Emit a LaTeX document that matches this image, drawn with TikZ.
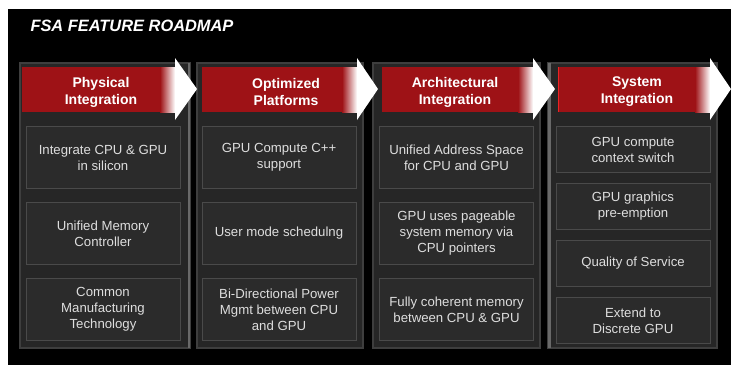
\documentclass[tikz,border=0pt]{standalone}
\usepackage{fontspec}
\setmainfont{Liberation Sans}
\usetikzlibrary{positioning}

\definecolor{fsared}{RGB}{158,18,22}
\definecolor{fsaedge}{RGB}{235,35,35}
\definecolor{panelgray}{RGB}{38,38,38}
\definecolor{paneledge}{RGB}{62,62,62}
\definecolor{bevelgray}{RGB}{105,105,105}
\definecolor{boxgray}{RGB}{43,43,43}
\definecolor{boxedge}{RGB}{74,74,74}
\definecolor{boxtext}{RGB}{222,222,222}

\begin{document}
\begin{tikzpicture}[x=1pt, y=-1pt, node distance=13pt]
		 \tikzstyle{panel} = [draw=paneledge, line width=1.5pt, fill=panelgray]
		 \tikzstyle{item} = [draw=boxedge, line width=1pt, fill=boxgray, text=boxtext, align=center,
		                     font=\fontsize{13.2}{16}\selectfont, minimum width=154pt, minimum height=62pt, inner sep=0pt]
		 \tikzstyle{small item} = [item, minimum height=46pt]
		 \tikzstyle{head} = [text=white, align=center, font=\fontsize{14}{17}\selectfont\bfseries]
		 \tikzstyle{fade} = [left color=fsared, right color=white]

		 \useasboundingbox (0,0) rectangle (731,365);
		 \fill [black] (8,9) rectangle (731,365);

		 \node [text=white, anchor=west, font=\fontsize{16.4}{16.4}\selectfont\bfseries\itshape] (title) at (27,26) {FSA FEATURE ROADMAP};

		 % panels
		 \draw [panel] (20,63) rectangle (190,348);
		 \draw [panel] (197,63) rectangle (363,348);
		 \draw [panel] (373,63) rectangle (540,348);
		 \draw [panel] (548,63) rectangle (717,348);
		 \draw [bevelgray, line width=2.5pt] (189,63) -- (189,348);
		 \draw [bevelgray, line width=2.5pt] (549.5,63) -- (549.5,348);

		 % banners
		 \fill [fsared] (22,67) rectangle (160,112);
		 \shade [fade] (160,67) rectangle (175,112);
		 \fill [white] (175,58) -- (197,89) -- (175,120) -- cycle;
		 \fill [fsared] (202,67) rectangle (342,112);
		 \shade [fade] (342,67) rectangle (357,112);
		 \fill [white] (357,58) -- (378,89) -- (357,120) -- cycle;
		 \fill [fsared] (382,67) rectangle (518,112);
		 \shade [fade] (518,67) rectangle (533,112);
		 \fill [white] (533,58) -- (555,89) -- (533,120) -- cycle;
		 \fill [fsared] (558,67) rectangle (695,112);
		 \shade [fade] (695,67) rectangle (710,112);
		 \fill [white] (710,58) -- (731,89) -- (710,120) -- cycle;
		 \draw [fsaedge, line width=1.5pt] (558.5,67) -- (558.5,112);

		 \node [head] (phys) at (101,92) {Physical\\Integration};
		 \node [head] (opt)  at (286,92) {Optimized\\Platforms};
		 \node [head] (arch) at (455,92) {Architectural\\Integration};
		 \node [head] (sys)  at (637,92) {System\\Integration};

		 % items
		 \node [item, anchor=north] (p1) at (103,126) {Integrate CPU \& GPU\\in silicon};
		 \node [item]               (p2) [below=of p1] {Unified Memory\\Controller};
		 \node [item]               (p3) [below=of p2] {Common\\Manufacturing\\Technology};

		 \node [item, anchor=north] (o1) at (279,126) {GPU Compute C++\\support};
		 \node [item]               (o2) [below=of o1] {User mode schedulng};
		 \node [item]               (o3) [below=of o2] {Bi-Directional Power\\Mgmt between CPU\\and GPU};

		 \node [item, anchor=north] (a1) at (456.5,126) {Unified Address Space\\for CPU and GPU};
		 \node [item]               (a2) [below=of a1] {GPU uses pageable\\system memory via\\CPU pointers};
		 \node [item]               (a3) [below=of a2] {Fully coherent memory\\between CPU \& GPU};

		 \node [small item, anchor=north] (s1) at (633,126) {GPU compute\\context switch};
		 \node [small item]               (s2) [below=10pt of s1] {GPU graphics\\pre-emption};
		 \node [small item]               (s3) [below=10pt of s2] {Quality of Service};
		 \node [small item]               (s4) [below=10pt of s3] {Extend to\\Discrete GPU};
	\end{tikzpicture}
\end{document}
